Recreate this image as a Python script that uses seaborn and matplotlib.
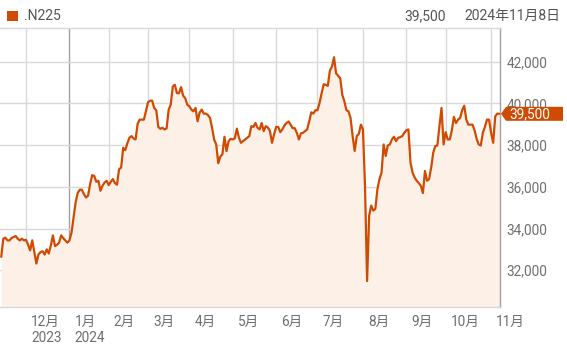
import numpy as np
import pandas as pd
import matplotlib
matplotlib.use("Agg")
import matplotlib.pyplot as plt
from matplotlib.patches import Rectangle, Polygon
import seaborn as sns

# ---- data (Nikkei 225 closes, one per trading day) ----
nov_2023 = [32640, 33510, 33560, 33430, 33430, 33540, 33590, 33640, 33510, 33430, 33510, 33430]
dec_2023 = [33460, 33220, 32950, 33430, 32870, 32320, 32750, 32870, 32910, 32750, 33000,
            32800, 33190, 33670, 33160, 33220, 33320, 33670, 33540, 33430, 33320]
jan_2024 = [33430, 33800, 34540, 35260, 35700, 35860, 35860, 35650, 35490, 35570, 36130,
            36560, 36520, 36240, 36290, 35810, 36050, 36210, 36290]
feb_2024 = [36080, 36240, 36370, 36180, 36100, 36840, 36920, 37870, 37760, 38080, 38350,
            38430, 38320, 38270, 39030, 39220, 39220, 39220, 39620]
mar_2024 = [40050, 40130, 40130, 39780, 39670, 38870, 38780, 38830, 38750, 38800, 39700,
            39940, 40810, 40890, 40490, 40490, 40780, 40370, 40250, 39940]
apr_2024 = [39860, 39700, 39620, 39780, 39140, 39570, 39700, 39510, 39510, 39440, 39300,
            38830, 38270, 38030, 37130, 37450, 37560, 38400, 37710, 38190, 38300]
may_2024 = [38270, 38320, 38790, 38350, 38110, 38190, 38270, 38350, 38430, 38910, 38870,
            39060, 38830, 38750, 39060, 38670, 38910, 38840, 38670, 38110, 38510]
jun_2024 = [38870, 38870, 38620, 38750, 38940, 39060, 39130, 38980, 38810, 38810, 38590,
            38270, 38560, 38590, 38670, 38750, 39140, 39570, 39510, 39670]
jul_2024 = [39670, 40020, 40490, 40920, 40890, 40840, 41570, 41760, 42210, 41440, 41320,
            41210, 40410, 40100, 39670, 39620, 39300, 38430, 37720, 38430, 38540, 38980]
aug_2024 = [38750, 36000, 31480, 34620, 35100, 34860, 34940, 35890, 36370, 36680, 38030,
            37480, 37980, 38030, 38270, 38400, 38190, 38350, 38380, 38430, 38590]
sep_2024 = [38710, 38750, 37160, 36680, 36450, 36290, 36180, 36050, 35700, 36760, 36290,
            36370, 36920, 37640, 37950, 37980, 38910, 39780, 38030]
oct_2024 = [38620, 38270, 38270, 38710, 39350, 39060, 39220, 39300, 39670, 39890, 39220,
            38980, 38980, 38980, 38710, 38300, 38030, 37980, 38590, 38870, 39220, 39220]
nov_2024 = [38590, 38110, 39380, 39510, 39500]

months = [nov_2023, dec_2023, jan_2024, feb_2024, mar_2024, apr_2024, may_2024,
          jun_2024, jul_2024, aug_2024, sep_2024, oct_2024, nov_2024]
month_labels = ["12月\n2023", "1月\n2024", "2月", "3月", "4月", "5月", "6月",
                "7月", "8月", "9月", "10月", "11月"]
y_ticks = [32000, 34000, 36000, 38000, 40000, 42000]
symbol = ".N225"
last_price = 39500
last_date = "2024年11月8日"

values = [v for m in months for v in m]
df = pd.DataFrame({"day": np.arange(len(values)), "close": values})
lengths = [len(m) for m in months]
month_starts = list(np.cumsum(lengths)[:-1])

# ---- style ----
sns.set_style("white")
plt.rcParams["font.family"] = ["Roboto", "Noto Sans CJK JP", "DejaVu Sans"]
LINE = "#d04a02"
FILL = "#fdf0e7"
GRID = "#d9d9d9"
TXT = "#6f6f6f"

W, H = 567, 346
fig = plt.figure(figsize=(W / 100, H / 100), dpi=100)
top_px, bot_px, right_px = 28.3, 306.5, 500
ax = fig.add_axes([0, 1 - bot_px / H, right_px / W, (bot_px - top_px) / H])

ymin, ymax = 30260, 43600
ax.set_ylim(ymin, ymax)
ax.set_xlim(-0.6, len(values) - 1 + 0.3)

ax.fill_between(df["day"], df["close"], ymin, color=FILL, lw=0, zorder=1)
sns.lineplot(data=df, x="day", y="close", color=LINE, lw=1.6, ax=ax, zorder=3)

# grid
ax.set_yticks(y_ticks)
ax.set_xticks(month_starts)
ax.grid(True, color=GRID, lw=1, zorder=0)
ax.set_axisbelow(True)
xg = ax.get_xgridlines()
if len(xg) > 1:
    xg[1].set_color("#a0a0a0")

# spines
ax.spines["left"].set_visible(False)
ax.spines["top"].set_color("#d9d9d9")
ax.spines["bottom"].set_color("#d9d9d9")
ax.spines["right"].set_color("#a0a0a0")
for s in ax.spines.values():
    s.set_linewidth(1)

# y labels on right
ax.yaxis.tick_right()
ax.set_yticklabels([f"{v:,}" for v in y_ticks])
ax.tick_params(axis="y", length=0, pad=4.5, labelsize=9.8, labelcolor=TXT)
ax.tick_params(axis="x", length=5.5, width=1, color="#cfcfcf", direction="out",
               labelbottom=False)
ax.set_xlabel("")
ax.set_ylabel("")

for pos, lbl in zip(month_starts, month_labels):
    parts = lbl.split("\n")
    ax.annotate(parts[0], xy=(pos, 0), xycoords=("data", "axes fraction"),
                xytext=(5, -15.5), textcoords="offset pixels",
                ha="left", va="center", fontsize=9.8, color=TXT)
    if len(parts) > 1:
        ax.annotate(parts[1], xy=(pos, 0), xycoords=("data", "axes fraction"),
                    xytext=(5, -31.5), textcoords="offset pixels",
                    ha="left", va="center", fontsize=9.8, color=TXT)

# header
fig.patches.append(Rectangle((7 / W, 1 - 21 / H), 11 / W, 10 / H,
                             transform=fig.transFigure, color=LINE, lw=0))
fig.text(24 / W, 1 - 16 / H, symbol, ha="left", va="center", fontsize=10, color="#555555")
fig.text(446 / W, 1 - 16 / H, f"{last_price:,}", ha="right", va="center",
         fontsize=10, color="#555555")
fig.text(560 / W, 1 - 16 / H, last_date, ha="right", va="center",
         fontsize=10, color="#555555")

# price tag
fig.canvas.draw()
yd = ax.transData.transform((0, last_price))[1]
yc = yd / H  # figure fraction
hh = 7.0 / H
x0 = 501 / W
x1 = 506 / W
x2 = 563 / W
tag = Polygon([(x0, yc), (x1, yc + hh), (x2, yc + hh), (x2, yc - hh), (x1, yc - hh)],
              closed=True, transform=fig.transFigure, color=LINE, lw=0, zorder=10)
fig.patches.append(tag)
fig.text(509 / W, yc, f"{last_price:,}", ha="left", va="center",
         fontsize=9.8, color="white", zorder=11)

fig.savefig("out.png", dpi=100)
